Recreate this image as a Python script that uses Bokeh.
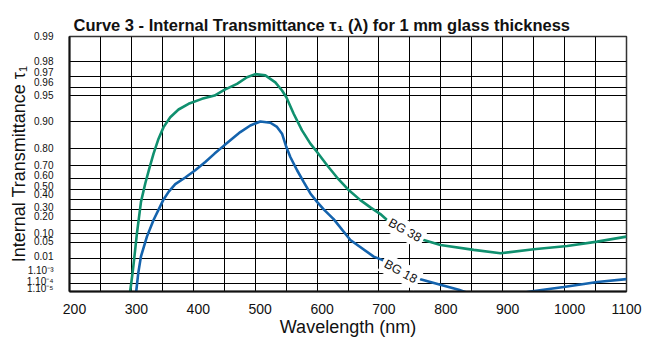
import numpy as np
from bokeh.plotting import figure
from bokeh.models import Range1d, FixedTicker, Label
from bokeh.embed import file_html
from bokeh.resources import INLINE

# ---- data (wavelength in nm, internal transmittance) ----
wl_bg38 = [297, 298, 301.9, 304.6, 309, 315.5, 322.4, 328.9, 335.8, 343.9, 352,
           362.8, 376.2, 392.4, 414.1, 434.4, 450.1, 470.7, 486.8, 500.2, 516.4,
           532.6, 543.4, 550.4, 562.2, 575.7, 589.2, 600, 616.2, 632.3, 650.1,
           670, 686.2, 702.3, 713.2, 742, 772.4, 799.4, 853.2, 896.4, 950.2,
           1004.2, 1052.7, 1100]
tau_bg38 = [1e-6, 1e-5, 1e-3, 0.01, 0.10, 0.38, 0.5585, 0.68, 0.7747, 0.8446, 0.8844,
            0.9109, 0.9273, 0.9375, 0.9453, 0.950, 0.957, 0.9635, 0.9695, 0.972, 0.971,
            0.965, 0.9563, 0.9476, 0.9186, 0.8742, 0.8238, 0.7833, 0.7031, 0.610, 0.5029,
            0.3975, 0.3238, 0.2577, 0.202, 0.12, 0.0625, 0.0415, 0.026, 0.0183, 0.0279,
            0.038, 0.0548, 0.0797]

wl_bg18 = [306, 307.8, 311.1, 315.4, 325.1, 335.8, 352, 360.1, 370.9, 387.1, 403.2,
           419.4, 434.4, 450.1, 476, 492.2, 508.3, 524.5, 535.3, 543.4, 550.4, 556.8,
           567.7, 578.3, 589.2, 600, 610.7, 626.8, 653.8, 691.5, 705.1, 735, 766.9,
           799.2, 828.9, 850, 900, 920, 944.9, 998.7, 1052.7, 1100]
tau_bg18 = [1e-6, 1e-5, 9.8e-4, 0.0124, 0.0797, 0.202, 0.4045, 0.48, 0.552, 0.61, 0.6675,
            0.725, 0.7747, 0.816, 0.8685, 0.8893, 0.9003, 0.8969, 0.885, 0.8631, 0.8082,
            0.7556, 0.6675, 0.5726, 0.4644, 0.3803, 0.3037, 0.21, 0.0625, 0.0124, 0.00815,
            1.4e-3, 2.8e-4, 7.0e-5, 1.7e-5, 4e-6, 2e-6, 4e-6, 1e-5, 3.8e-5, 1.4e-4, 2.8e-4]

y_tick_values = [0.99, 0.98, 0.97, 0.96, 0.95, 0.90, 0.80, 0.70, 0.60, 0.50, 0.40,
                 0.30, 0.20, 0.10, 0.05, 0.01, 1e-3, 1e-4, 1e-5]
y_tick_labels = ["0.99", "0.98", "0.97", "0.96", "0.95", "0.90", "0.80", "0.70",
                 "0.60", "0.50", "0.40", "0.30", "0.20", "0.10", "0.05", "0.01",
                 "1.10\u207b\u00b3", "1.10\u207b\u2074", "1.10\u207b\u2075"]
x_tick_values = [200, 300, 400, 500, 600, 700, 800, 900, 1000, 1100]
x_tick_labels = ["200", "300", "400", "500", "600", "700", "800", "900", "1000", "1100"]
x_grid_values = [200, 250, 300, 350, 400, 450, 500, 550, 600, 650, 700, 750, 800,
                 850, 900, 950, 1000, 1050, 1100]

series_names = ["BG 38", "BG 18"]
label_pos = [(742, 0.12), (735, 1.3e-3)]

# label nudges in screen pixels (the printed chart moves crowded labels apart)
y_label_nudge_px = [0, 0, 4, 4.3, 0, 0, 0, 0, 3, 3, 5, 2.5, 3.5, 0, 1.3, 2, 2.7, 1.6, 3.4]
x_label_nudge_px = [5, 5, 5, 5, 5, 5, 5, 5, 5, 0]


def diabatic(t):
    """Transmittance scale: y = -log10(-ln(tau))."""
    t = np.asarray(t, dtype=float)
    return -np.log10(-np.log(t))


FONT = "Liberation Sans"
GREEN = "#10906f"
BLUE = "#1463ad"
FRAME_W, FRAME_H = 557, 256

y_lo, y_hi = float(diabatic(1e-5)), float(diabatic(0.99))
p = figure(width=660, height=339, output_backend="svg", toolbar_location=None,
           x_range=Range1d(200, 1100), y_range=Range1d(y_lo, y_hi),
           min_border_left=69, min_border_right=34, min_border_top=36,
           min_border_bottom=47)

p.title.text = "Curve 3 - Internal Transmittance \u03c4\u2081 (\u03bb) for 1 mm glass thickness"
p.title.text_font = FONT
p.title.text_font_size = "16.5px"
p.title.text_font_style = "bold"
p.title.text_color = "#111111"
p.title.offset = 4
p.title.standoff = 5

# grid at the true values
yt = [float(v) for v in diabatic(y_tick_values)]
p.xgrid.ticker = FixedTicker(ticks=x_grid_values)
p.ygrid.ticker = FixedTicker(ticks=yt)

# axis labels (no tick marks), slightly nudged like the printed chart
per_px_y = (y_hi - y_lo) / FRAME_H
per_px_x = 900 / FRAME_W
ylab = [v + n * per_px_y for v, n in zip(yt, y_label_nudge_px)]
xlab = [float(v + n * per_px_x) for v, n in zip(x_tick_values, x_label_nudge_px)]
p.yaxis.ticker = FixedTicker(ticks=ylab)
p.yaxis.major_label_overrides = {v: lab for v, lab in zip(ylab, y_tick_labels)}
p.xaxis.ticker = FixedTicker(ticks=xlab)
p.xaxis.major_label_overrides = {v: lab for v, lab in zip(xlab, x_tick_labels)}

for ax in (p.xaxis[0], p.yaxis[0]):
    ax.major_tick_line_color = None
    ax.minor_tick_line_color = None
    ax.axis_line_color = "#111111"
    ax.axis_line_width = 2
    ax.major_label_text_font = FONT
    ax.major_label_text_color = "#111111"
    ax.axis_label_text_font = FONT
    ax.axis_label_text_font_style = "normal"
    ax.axis_label_text_font_size = "18px"
    ax.axis_label_text_color = "#111111"

p.xaxis.major_label_text_font_size = "14px"
p.xaxis.major_label_standoff = 6
p.xaxis.axis_label = "Wavelength (nm)"
p.xaxis.axis_label_standoff = 0

p.yaxis.major_label_text_font_size = "10px"
p.yaxis.major_label_standoff = 10
p.yaxis.axis_label = "Internal Transmittance \u03c4\u2081"
p.yaxis.axis_label_standoff = -5

for g in (p.xgrid[0], p.ygrid[0]):
    g.grid_line_color = "#000000"
    g.grid_line_alpha = 1.0
    g.grid_line_width = 1

p.outline_line_color = "#333333"
p.outline_line_width = 1.5

# curves
p.line(wl_bg38, diabatic(tau_bg38), line_color=GREEN, line_width=2.6)
p.line(wl_bg18, diabatic(tau_bg18), line_color=BLUE, line_width=2.6)

for name, (lx, lt) in zip(series_names, label_pos):
    p.add_layout(Label(x=lx, y=float(diabatic(lt)), text=name, angle=-0.5,
                       text_align="center", text_baseline="middle",
                       text_font=FONT, text_font_size="12.5px", text_color="#111111",
                       background_fill_color="white", padding=3))

open("out.html", "w").write(file_html(p, INLINE))
